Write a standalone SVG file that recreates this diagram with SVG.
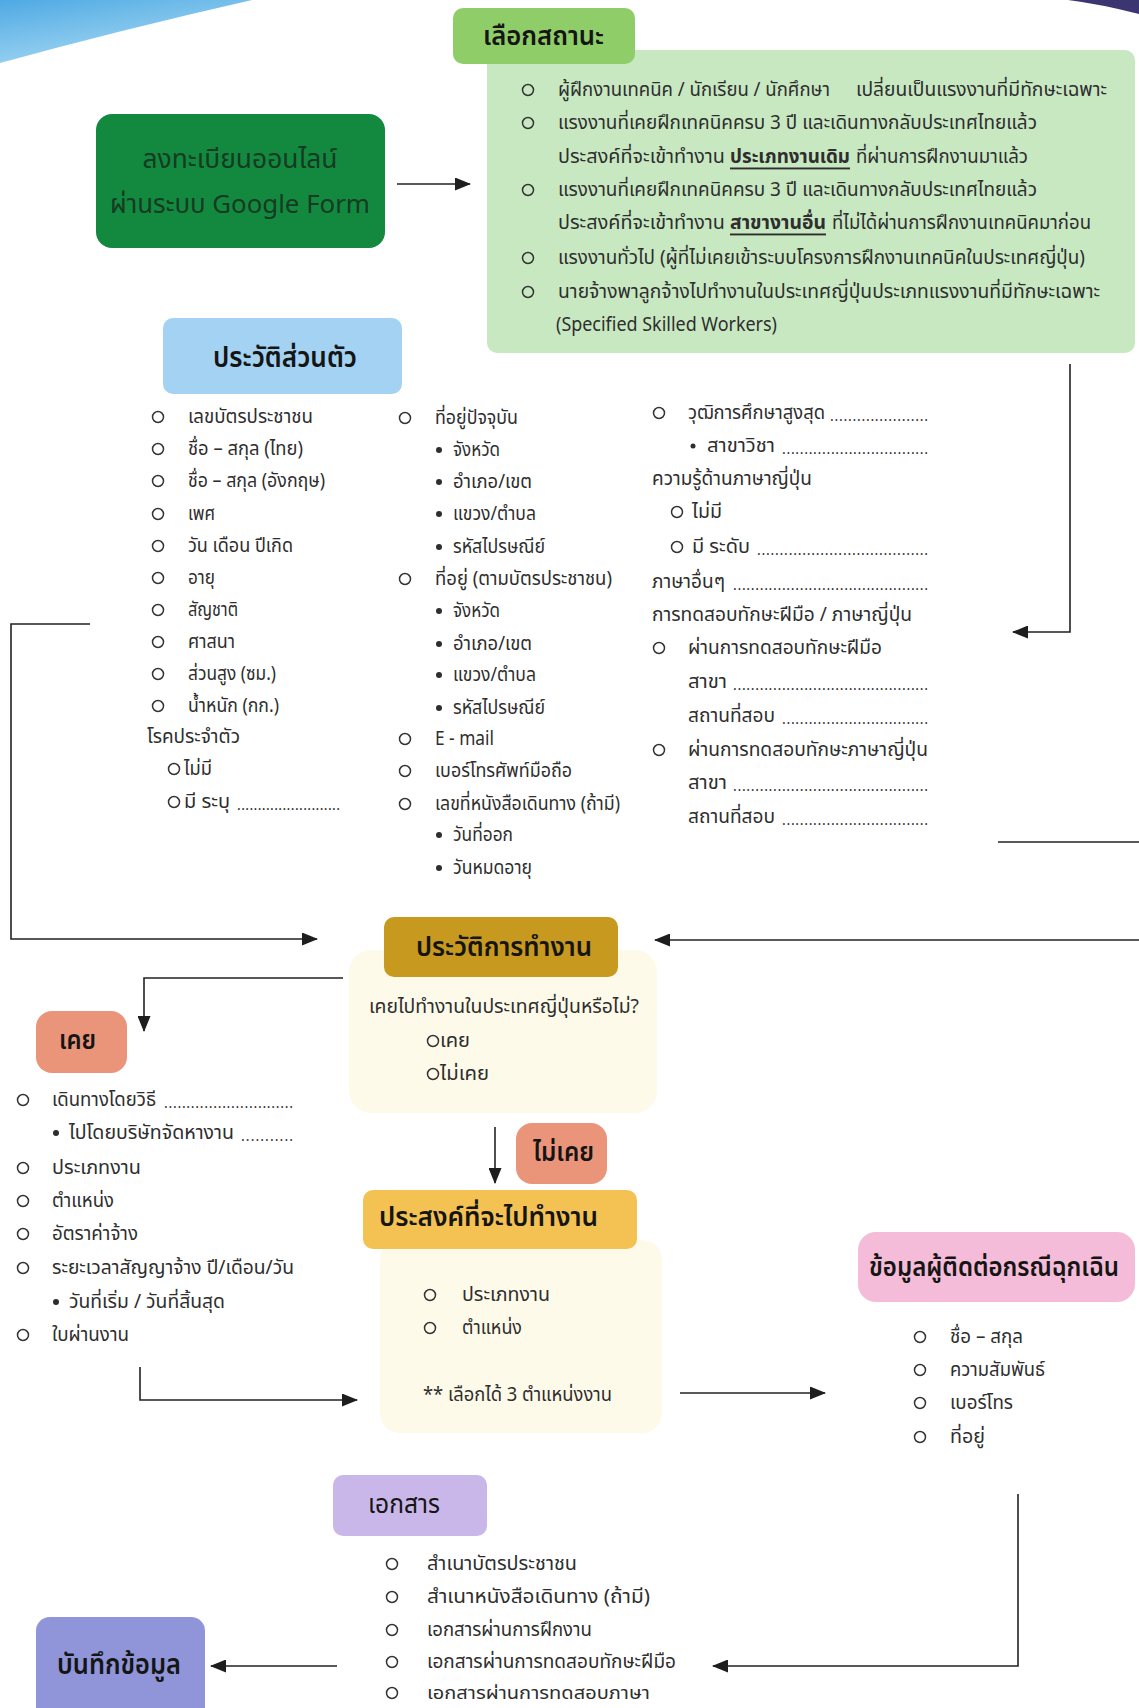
<svg xmlns="http://www.w3.org/2000/svg" width="1139" height="1708" viewBox="0 0 1139 1708">
<defs>
<linearGradient id="sw" x1="0" y1="0" x2="0.6" y2="1">
<stop offset="0" stop-color="#4fa9e3"/>
<stop offset="1" stop-color="#a9dbf4"/>
</linearGradient>
<marker id="ah" markerWidth="16" markerHeight="13" refX="15" refY="6.5" orient="auto" markerUnits="userSpaceOnUse">
<path d="M0,0 L16,6.5 L0,13 z" fill="#1e1e1e"/>
</marker>
<style>
text{font-family:"Noto Sans Thai","Noto Sans","DejaVu Sans",sans-serif;fill:#2e2e2e;dominant-baseline:central}
.b{font-size:19px}
.h{font-size:26px;fill:#151515;font-weight:600}
.n{font-weight:normal}
.o{fill:none;stroke:#333;stroke-width:1.5}
.d{fill:#2e2e2e}
.c{fill:none;stroke:#222;stroke-width:1.6}
.dots{font-size:14px;letter-spacing:0}
.u{font-weight:bold;text-decoration:underline}
</style>
</defs>
<rect width="1139" height="1708" fill="#ffffff"/>
<path d="M0,0 L252,0 Q120,30 0,63 Z" fill="url(#sw)"/>
<path d="M1068,0 L1139,0 L1139,14 Q1100,4 1068,0 Z" fill="#3b3571"/>

<g id="connectors">
<path class="c" d="M397,184 H470" marker-end="url(#ah)"/>
<path class="c" d="M1070,364 V632 H1013" marker-end="url(#ah)"/>
<path class="c" d="M90,624 H11 V939 H317" marker-end="url(#ah)"/>
<path class="c" d="M1139,940 H655" marker-end="url(#ah)"/>
<path class="c" d="M998,842 H1139"/>
<path class="c" d="M343,978 H144 V1031" marker-end="url(#ah)"/>
<path class="c" d="M495,1127 V1183" marker-end="url(#ah)"/>
<path class="c" d="M140,1367 V1400 H357" marker-end="url(#ah)"/>
<path class="c" d="M680,1393 H825" marker-end="url(#ah)"/>
<path class="c" d="M1018,1494 V1666 H713" marker-end="url(#ah)"/>
<path class="c" d="M337,1666 H211" marker-end="url(#ah)"/>
</g>

<g id="register">
<rect x="96" y="114" width="289" height="134" rx="16" fill="#12893f"/>
<text class="h n" x="240" y="160" text-anchor="middle" textLength="195" lengthAdjust="spacingAndGlyphs" style="fill:#163a22">ลงทะเบียนออนไลน์</text>
<text class="h n" x="240" y="205" text-anchor="middle" textLength="260" lengthAdjust="spacingAndGlyphs" style="fill:#163a22">ผ่านระบบ Google Form</text>
</g>

<g id="status">
<rect x="487" y="50" width="648" height="303" rx="10" fill="#c8e8c2"/>
<rect x="453" y="8" width="182" height="56" rx="10" fill="#8fcd68"/>
<text class="h" x="483" y="37" textLength="121" lengthAdjust="spacingAndGlyphs">เลือกสถานะ</text>
<circle class="o" cx="528" cy="90" r="5.5"/>
<text class="b" x="558" y="90" textLength="272" lengthAdjust="spacingAndGlyphs">ผู้ฝึกงานเทคนิค / นักเรียน / นักศึกษา</text>
<text class="b" x="856" y="90" textLength="251" lengthAdjust="spacingAndGlyphs">เปลี่ยนเป็นแรงงานที่มีทักษะเฉพาะ</text>
<circle class="o" cx="528" cy="123" r="5.5"/>
<text class="b" x="558" y="123" textLength="479" lengthAdjust="spacingAndGlyphs">แรงงานที่เคยฝึกเทคนิคครบ 3 ปี และเดินทางกลับประเทศไทยแล้ว</text>
<text class="b" x="558" y="157" textLength="167" lengthAdjust="spacingAndGlyphs">ประสงค์ที่จะเข้าทำงาน</text>
<text class="b u" x="730" y="157" textLength="120" lengthAdjust="spacingAndGlyphs">ประเภทงานเดิม</text>
<text class="b" x="856" y="157" textLength="172" lengthAdjust="spacingAndGlyphs">ที่ผ่านการฝึกงานมาแล้ว</text>
<circle class="o" cx="528" cy="190" r="5.5"/>
<text class="b" x="558" y="190" textLength="479" lengthAdjust="spacingAndGlyphs">แรงงานที่เคยฝึกเทคนิคครบ 3 ปี และเดินทางกลับประเทศไทยแล้ว</text>
<text class="b" x="558" y="223" textLength="167" lengthAdjust="spacingAndGlyphs">ประสงค์ที่จะเข้าทำงาน</text>
<text class="b u" x="730" y="223" textLength="96" lengthAdjust="spacingAndGlyphs">สาขางานอื่น</text>
<text class="b" x="832" y="223" textLength="259" lengthAdjust="spacingAndGlyphs">ที่ไม่ได้ผ่านการฝึกงานเทคนิคมาก่อน</text>
<circle class="o" cx="528" cy="258" r="5.5"/>
<text class="b" x="558" y="258" textLength="527" lengthAdjust="spacingAndGlyphs">แรงงานทั่วไป (ผู้ที่ไม่เคยเข้าระบบโครงการฝึกงานเทคนิคในประเทศญี่ปุ่น)</text>
<circle class="o" cx="528" cy="292" r="5.5"/>
<text class="b" x="558" y="292" textLength="542" lengthAdjust="spacingAndGlyphs">นายจ้างพาลูกจ้างไปทำงานในประเทศญี่ปุ่นประเภทแรงงานที่มีทักษะเฉพาะ</text>
<text class="b" x="556" y="325" textLength="221" lengthAdjust="spacingAndGlyphs">(Specified Skilled Workers)</text>
</g>

<g id="personal">
<rect x="163" y="318" width="239" height="76" rx="10" fill="#a3d2f2"/>
<text class="h" x="213" y="358" textLength="144" lengthAdjust="spacingAndGlyphs" style="font-size:28px">ประวัติส่วนตัว</text>
<g>
<circle class="o" cx="158" cy="417" r="5.5"/><text class="b" x="188" y="417" textLength="125" lengthAdjust="spacingAndGlyphs">เลขบัตรประชาชน</text>
<circle class="o" cx="158" cy="449" r="5.5"/><text class="b" x="188" y="449" textLength="115" lengthAdjust="spacingAndGlyphs">ชื่อ – สกุล (ไทย)</text>
<circle class="o" cx="158" cy="481" r="5.5"/><text class="b" x="188" y="481" textLength="137" lengthAdjust="spacingAndGlyphs">ชื่อ – สกุล (อังกฤษ)</text>
<circle class="o" cx="158" cy="514" r="5.5"/><text class="b" x="188" y="514" textLength="27" lengthAdjust="spacingAndGlyphs">เพศ</text>
<circle class="o" cx="158" cy="546" r="5.5"/><text class="b" x="188" y="546" textLength="105" lengthAdjust="spacingAndGlyphs">วัน เดือน ปีเกิด</text>
<circle class="o" cx="158" cy="578" r="5.5"/><text class="b" x="188" y="578" textLength="27" lengthAdjust="spacingAndGlyphs">อายุ</text>
<circle class="o" cx="158" cy="610" r="5.5"/><text class="b" x="188" y="610" textLength="50" lengthAdjust="spacingAndGlyphs">สัญชาติ</text>
<circle class="o" cx="158" cy="642" r="5.5"/><text class="b" x="188" y="642" textLength="47" lengthAdjust="spacingAndGlyphs">ศาสนา</text>
<circle class="o" cx="158" cy="674" r="5.5"/><text class="b" x="188" y="674" textLength="88" lengthAdjust="spacingAndGlyphs">ส่วนสูง (ซม.)</text>
<circle class="o" cx="158" cy="706" r="5.5"/><text class="b" x="188" y="706" textLength="91" lengthAdjust="spacingAndGlyphs">น้ำหนัก (กก.)</text>
<text class="b" x="147" y="737" textLength="93" lengthAdjust="spacingAndGlyphs">โรคประจำตัว</text>
<circle class="o" cx="174" cy="769" r="5.5"/><text class="b" x="184" y="769" textLength="28" lengthAdjust="spacingAndGlyphs">ไม่มี</text>
<circle class="o" cx="174" cy="802" r="5.5"/><text class="b" x="184" y="802" textLength="46" lengthAdjust="spacingAndGlyphs">มี ระบุ</text>
<text class="dots" x="237" y="805" textLength="103" lengthAdjust="spacing">.........................</text>
</g>
<g>
<circle class="o" cx="405" cy="418" r="5.5"/><text class="b" x="435" y="418" textLength="83" lengthAdjust="spacingAndGlyphs">ที่อยู่ปัจจุบัน</text>
<circle class="d" cx="439" cy="450" r="3"/><text class="b" x="453" y="450" textLength="47" lengthAdjust="spacingAndGlyphs">จังหวัด</text>
<circle class="d" cx="439" cy="482" r="3"/><text class="b" x="453" y="482" textLength="79" lengthAdjust="spacingAndGlyphs">อำเภอ/เขต</text>
<circle class="d" cx="439" cy="514" r="3"/><text class="b" x="453" y="514" textLength="83" lengthAdjust="spacingAndGlyphs">แขวง/ตำบล</text>
<circle class="d" cx="439" cy="547" r="3"/><text class="b" x="453" y="547" textLength="92" lengthAdjust="spacingAndGlyphs">รหัสไปรษณีย์</text>
<circle class="o" cx="405" cy="579" r="5.5"/><text class="b" x="435" y="579" textLength="177" lengthAdjust="spacingAndGlyphs">ที่อยู่ (ตามบัตรประชาชน)</text>
<circle class="d" cx="439" cy="611" r="3"/><text class="b" x="453" y="611" textLength="47" lengthAdjust="spacingAndGlyphs">จังหวัด</text>
<circle class="d" cx="439" cy="644" r="3"/><text class="b" x="453" y="644" textLength="79" lengthAdjust="spacingAndGlyphs">อำเภอ/เขต</text>
<circle class="d" cx="439" cy="675" r="3"/><text class="b" x="453" y="675" textLength="83" lengthAdjust="spacingAndGlyphs">แขวง/ตำบล</text>
<circle class="d" cx="439" cy="708" r="3"/><text class="b" x="453" y="708" textLength="92" lengthAdjust="spacingAndGlyphs">รหัสไปรษณีย์</text>
<circle class="o" cx="405" cy="739" r="5.5"/><text class="b" x="435" y="739" textLength="59" lengthAdjust="spacingAndGlyphs">E - mail</text>
<circle class="o" cx="405" cy="771" r="5.5"/><text class="b" x="435" y="771" textLength="137" lengthAdjust="spacingAndGlyphs">เบอร์โทรศัพท์มือถือ</text>
<circle class="o" cx="405" cy="804" r="5.5"/><text class="b" x="435" y="804" textLength="185" lengthAdjust="spacingAndGlyphs">เลขที่หนังสือเดินทาง (ถ้ามี)</text>
<circle class="d" cx="439" cy="835" r="3"/><text class="b" x="453" y="835" textLength="60" lengthAdjust="spacingAndGlyphs">วันที่ออก</text>
<circle class="d" cx="439" cy="868" r="3"/><text class="b" x="453" y="868" textLength="79" lengthAdjust="spacingAndGlyphs">วันหมดอายุ</text>
</g>
<g>
<circle class="o" cx="659" cy="413" r="5.5"/><text class="b" x="688" y="413" textLength="137" lengthAdjust="spacingAndGlyphs">วุฒิการศึกษาสูงสุด</text>
<text class="dots" x="830" y="416" textLength="98" lengthAdjust="spacing">......................</text>
<circle class="d" cx="693" cy="446" r="2.5"/><text class="b" x="707" y="446" textLength="68" lengthAdjust="spacingAndGlyphs">สาขาวิชา</text>
<text class="dots" x="782" y="449" textLength="146" lengthAdjust="spacing">.................................</text>
<text class="b" x="652" y="479" textLength="160" lengthAdjust="spacingAndGlyphs">ความรู้ด้านภาษาญี่ปุ่น</text>
<circle class="o" cx="677" cy="512" r="5.5"/><text class="b" x="692" y="512" textLength="30" lengthAdjust="spacingAndGlyphs">ไม่มี</text>
<circle class="o" cx="677" cy="547" r="5.5"/><text class="b" x="692" y="547" textLength="58" lengthAdjust="spacingAndGlyphs">มี ระดับ</text>
<text class="dots" x="757" y="550" textLength="171" lengthAdjust="spacing">......................................</text>
<text class="b" x="652" y="582" textLength="73" lengthAdjust="spacingAndGlyphs">ภาษาอื่นๆ</text>
<text class="dots" x="733" y="585" textLength="195" lengthAdjust="spacing">............................................</text>
<text class="b" x="652" y="615" textLength="260" lengthAdjust="spacingAndGlyphs">การทดสอบทักษะฝีมือ / ภาษาญี่ปุ่น</text>
<circle class="o" cx="659" cy="648" r="5.5"/><text class="b" x="688" y="648" textLength="194" lengthAdjust="spacingAndGlyphs">ผ่านการทดสอบทักษะฝีมือ</text>
<text class="b" x="688" y="682" textLength="39" lengthAdjust="spacingAndGlyphs">สาขา</text>
<text class="dots" x="733" y="685" textLength="195" lengthAdjust="spacing">............................................</text>
<text class="b" x="688" y="716" textLength="87" lengthAdjust="spacingAndGlyphs">สถานที่สอบ</text>
<text class="dots" x="782" y="719" textLength="146" lengthAdjust="spacing">.................................</text>
<circle class="o" cx="659" cy="750" r="5.5"/><text class="b" x="688" y="750" textLength="240" lengthAdjust="spacingAndGlyphs">ผ่านการทดสอบทักษะภาษาญี่ปุ่น</text>
<text class="b" x="688" y="783" textLength="39" lengthAdjust="spacingAndGlyphs">สาขา</text>
<text class="dots" x="733" y="786" textLength="195" lengthAdjust="spacing">............................................</text>
<text class="b" x="688" y="817" textLength="87" lengthAdjust="spacingAndGlyphs">สถานที่สอบ</text>
<text class="dots" x="782" y="820" textLength="146" lengthAdjust="spacing">.................................</text>
</g>
</g>

<g id="workhistory">
<rect x="349" y="950" width="308" height="163" rx="22" fill="#fefae9"/>
<rect x="384" y="917" width="234" height="60" rx="10" fill="#c8991f"/>
<text class="h" x="416" y="948" textLength="176" lengthAdjust="spacingAndGlyphs">ประวัติการทำงาน</text>
<text class="b" x="369" y="1007" textLength="270" lengthAdjust="spacingAndGlyphs">เคยไปทำงานในประเทศญี่ปุ่นหรือไม่?</text>
<circle class="o" cx="433" cy="1041" r="5.5"/><text class="b" x="440" y="1041" textLength="30" lengthAdjust="spacingAndGlyphs">เคย</text>
<circle class="o" cx="433" cy="1074" r="5.5"/><text class="b" x="440" y="1074" textLength="49" lengthAdjust="spacingAndGlyphs">ไม่เคย</text>
</g>

<g id="ever">
<rect x="36" y="1011" width="91" height="62" rx="16" fill="#ea957a"/>
<text class="h" x="59" y="1041" textLength="37" lengthAdjust="spacingAndGlyphs">เคย</text>
<circle class="o" cx="23" cy="1100" r="5.5"/><text class="b" x="52" y="1100" textLength="104" lengthAdjust="spacingAndGlyphs">เดินทางโดยวิธี</text>
<text class="dots" x="164" y="1103" textLength="129" lengthAdjust="spacing">.............................</text>
<circle class="d" cx="56" cy="1133" r="3"/><text class="b" x="69" y="1133" textLength="165" lengthAdjust="spacingAndGlyphs">ไปโดยบริษัทจัดหางาน</text>
<text class="dots" x="241" y="1136" textLength="52" lengthAdjust="spacing">...........</text>
<circle class="o" cx="23" cy="1168" r="5.5"/><text class="b" x="52" y="1168" textLength="89" lengthAdjust="spacingAndGlyphs">ประเภทงาน</text>
<circle class="o" cx="23" cy="1201" r="5.5"/><text class="b" x="52" y="1201" textLength="62" lengthAdjust="spacingAndGlyphs">ตำแหน่ง</text>
<circle class="o" cx="23" cy="1234" r="5.5"/><text class="b" x="52" y="1234" textLength="86" lengthAdjust="spacingAndGlyphs">อัตราค่าจ้าง</text>
<circle class="o" cx="23" cy="1268" r="5.5"/><text class="b" x="52" y="1268" textLength="242" lengthAdjust="spacingAndGlyphs">ระยะเวลาสัญญาจ้าง ปี/เดือน/วัน</text>
<circle class="d" cx="56" cy="1302" r="3"/><text class="b" x="69" y="1302" textLength="156" lengthAdjust="spacingAndGlyphs">วันที่เริ่ม / วันที่สิ้นสุด</text>
<circle class="o" cx="23" cy="1335" r="5.5"/><text class="b" x="52" y="1335" textLength="77" lengthAdjust="spacingAndGlyphs">ใบผ่านงาน</text>
</g>

<g id="never">
<rect x="516" y="1123" width="91" height="61" rx="16" fill="#ea957a"/>
<text class="h" x="533" y="1153" textLength="61" lengthAdjust="spacingAndGlyphs">ไม่เคย</text>
</g>

<g id="desired">
<rect x="380" y="1240" width="282" height="193" rx="20" fill="#fefae9"/>
<rect x="363" y="1190" width="274" height="59" rx="10" fill="#f4c253"/>
<text class="h" x="379" y="1218" textLength="219" lengthAdjust="spacingAndGlyphs">ประสงค์ที่จะไปทำงาน</text>
<circle class="o" cx="430" cy="1295" r="5.5"/><text class="b" x="462" y="1295" textLength="88" lengthAdjust="spacingAndGlyphs">ประเภทงาน</text>
<circle class="o" cx="430" cy="1328" r="5.5"/><text class="b" x="462" y="1328" textLength="60" lengthAdjust="spacingAndGlyphs">ตำแหน่ง</text>
<text class="b" x="423" y="1395" textLength="189" lengthAdjust="spacingAndGlyphs">** เลือกได้ 3 ตำแหน่งงาน</text>
</g>

<g id="emergency">
<rect x="858" y="1232" width="277" height="70" rx="18" fill="#f4bcd8"/>
<text class="h" x="869" y="1268" textLength="250" lengthAdjust="spacingAndGlyphs">ข้อมูลผู้ติดต่อกรณีฉุกเฉิน</text>
<circle class="o" cx="920" cy="1337" r="5.5"/><text class="b" x="950" y="1337" textLength="73" lengthAdjust="spacingAndGlyphs">ชื่อ – สกุล</text>
<circle class="o" cx="920" cy="1370" r="5.5"/><text class="b" x="950" y="1370" textLength="95" lengthAdjust="spacingAndGlyphs">ความสัมพันธ์</text>
<circle class="o" cx="920" cy="1403" r="5.5"/><text class="b" x="950" y="1403" textLength="63" lengthAdjust="spacingAndGlyphs">เบอร์โทร</text>
<circle class="o" cx="920" cy="1437" r="5.5"/><text class="b" x="950" y="1437" textLength="35" lengthAdjust="spacingAndGlyphs">ที่อยู่</text>
</g>

<g id="documents">
<rect x="333" y="1475" width="154" height="61" rx="10" fill="#cab7ea"/>
<text class="h n" x="368" y="1505" textLength="72" lengthAdjust="spacingAndGlyphs">เอกสาร</text>
<circle class="o" cx="392" cy="1564" r="5.5"/><text class="b" x="427" y="1564" textLength="150" lengthAdjust="spacingAndGlyphs">สำเนาบัตรประชาชน</text>
<circle class="o" cx="392" cy="1597" r="5.5"/><text class="b" x="427" y="1597" textLength="223" lengthAdjust="spacingAndGlyphs">สำเนาหนังสือเดินทาง (ถ้ามี)</text>
<circle class="o" cx="392" cy="1630" r="5.5"/><text class="b" x="427" y="1630" textLength="165" lengthAdjust="spacingAndGlyphs">เอกสารผ่านการฝึกงาน</text>
<circle class="o" cx="392" cy="1662" r="5.5"/><text class="b" x="427" y="1662" textLength="249" lengthAdjust="spacingAndGlyphs">เอกสารผ่านการทดสอบทักษะฝีมือ</text>
<circle class="o" cx="392" cy="1693" r="5.5"/><text class="b" x="427" y="1693" textLength="223" lengthAdjust="spacingAndGlyphs" style="font-size:18px">เอกสารผ่านการทดสอบภาษา</text>
</g>

<g id="save">
<rect x="36" y="1617" width="169" height="106" rx="14" fill="#8f95d8"/>
<text class="h" x="57" y="1665" textLength="124" lengthAdjust="spacingAndGlyphs" style="font-size:28px">บันทึกข้อมูล</text>
</g>
</svg>
